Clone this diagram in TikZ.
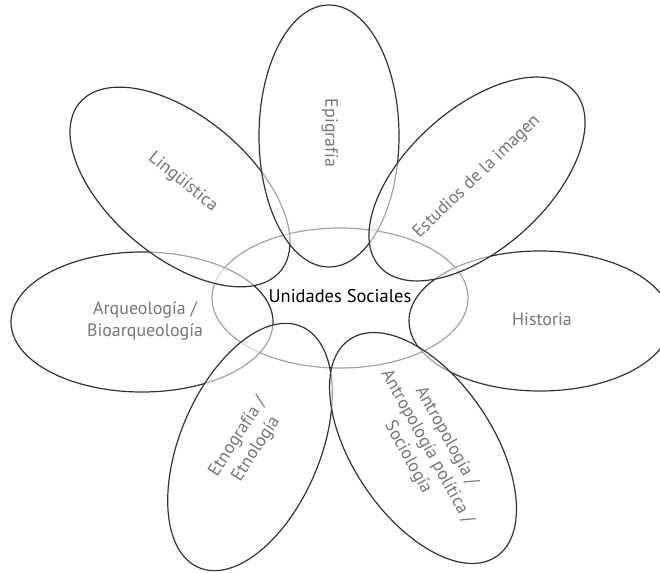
\documentclass[tikz,border=0pt]{standalone}
\usepackage{fontspec}
\setmainfont{PT Sans}
\usepackage{tikz}
\usetikzlibrary{shapes.geometric}
\definecolor{contorno}{RGB}{50,50,50}
\definecolor{grisrotulo}{RGB}{118,118,118}
\tikzset{
  petalo/.style={ellipse,draw=contorno,line width=1.2pt,fill=white,fill opacity=0.55,
    draw opacity=1,minimum width=262bp,minimum height=140bp,inner sep=0pt},
  nucleo/.style={ellipse,draw=contorno,line width=1.2pt,minimum width=256bp,
    minimum height=140bp,inner sep=0pt},
  rotulo/.style={text=grisrotulo,font=\fontsize{18}{22}\selectfont,align=center,inner sep=1pt},
  central/.style={text=black,font=\fontsize{18.5}{22}\selectfont,inner sep=1pt}
}
\begin{document}
\begin{tikzpicture}[x=1bp,y=-1bp]
  \useasboundingbox (0,0) rectangle (660,573);
  \node[nucleo] (unidades) at (340,298) {};
  \foreach \nombre/\x/\y/\ang in {arqueo/142/322/0,historia/540/321/0,linguis/180/187/-40,
      etno/250/447/67,epigra/329/136/90,antropo/423/448/-56,estudios/477/179/42}
    {\node[petalo,rotate=\ang] (\nombre) at (\x,\y) {};}
  \node[central] (t-unidades) at (340,296) {Unidades Sociales};
  \node[rotulo] (t-arqueo) at (145,321) {Arqueología /\\Bioarqueología};
  \node[rotulo] (t-historia) at (542,319) {Historia};
  \node[rotulo,rotate=-39] (t-linguis) at (183,182) {Lingüística};
  \node[rotulo,rotate=57] (t-etno) at (247,443) {Etnografía /\\Etnología};
  \node[rotulo,rotate=-90] (t-epigra) at (330,133) {Epigrafía};
  \node[rotulo,rotate=-61] (t-antropo) at (427,447)
    {Antropología /\\Antropología política /\\Sociología};
  \node[rotulo,rotate=44] (t-estudios) at (477,177) {Estudios de la imagen};
\end{tikzpicture}
\end{document}
